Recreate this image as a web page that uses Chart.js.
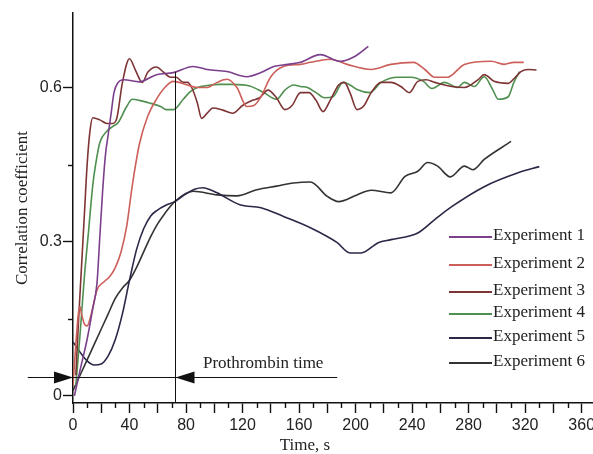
<!DOCTYPE html>
<html><head><meta charset="utf-8">
<script src="https://cdn.jsdelivr.net/npm/chart.js@4"></script>
<style>html,body{margin:0;padding:0;background:#fff;overflow:hidden}</style>
</head><body>
<canvas id="c" width="593" height="454"></canvas>
<script>
// ---------- data ----------
const seriesLabels = ['Experiment 1','Experiment 2','Experiment 3','Experiment 4','Experiment 5','Experiment 6'];
const seriesColors = ['#7B3F8C','#CC5F5A','#7E3434','#4F8F4F','#2A2847','#333333'];

const exp1Time = [1,5,10,14,17,19,21,23,25,27,29,32,36,47,59,71,85,95,109,123,133,142,152,161,175,189,199,209];
const exp1Corr = [0.0,0.05,0.11,0.17,0.22,0.31,0.4,0.47,0.51,0.55,0.59,0.61,0.615,0.611,0.625,0.629,0.641,0.635,0.631,0.621,0.629,0.641,0.645,0.649,0.664,0.651,0.66,0.68];

const exp2Time = [0,2,4,5,6,8,10,13,17,22,26,30,34,38,42,47,53,59,65,71,81,88,95,102,109,116,123,128,133,140,149,161,168,182,194,211,225,241,249,256,265,277,296,305,312,319];
const exp2Corr = [0.02,0.1,0.165,0.173,0.16,0.14,0.136,0.16,0.206,0.222,0.232,0.25,0.28,0.33,0.41,0.49,0.545,0.577,0.6,0.612,0.605,0.6,0.6,0.61,0.616,0.6,0.563,0.565,0.582,0.621,0.641,0.645,0.649,0.655,0.645,0.635,0.645,0.649,0.635,0.62,0.62,0.645,0.651,0.645,0.649,0.649];

const exp3Time = [2,4,6,8,10,12,14,19,24,28,31,35,40,44,49,53,59,64,69,73,78,81,84,88,91,95,99,106,113,120,127,132,138,144,150,155,161,167,172,177,182,188,192,196,201,206,211,218,225,232,238,244,250,256,268,277,287,291,298,308,313,317,322,328];
const exp3Corr = [0.04,0.15,0.25,0.35,0.45,0.515,0.541,0.537,0.53,0.53,0.54,0.61,0.656,0.635,0.61,0.63,0.64,0.63,0.62,0.62,0.61,0.61,0.6,0.57,0.54,0.55,0.56,0.556,0.55,0.565,0.575,0.58,0.595,0.58,0.557,0.565,0.59,0.59,0.575,0.553,0.575,0.605,0.61,0.59,0.557,0.565,0.59,0.61,0.61,0.602,0.59,0.612,0.615,0.61,0.602,0.6,0.616,0.625,0.612,0.608,0.62,0.631,0.635,0.634];

const exp4Time = [2,5,8,11,14,16,19,24,28,32,38,42,47,54,62,66,71,78,83,88,95,104,113,125,135,144,150,156,161,166,172,178,184,191,196,201,210,218,230,239,248,254,263,272,277,284,291,297,301,308,312,316];
const exp4Corr = [0.02,0.12,0.23,0.32,0.41,0.45,0.493,0.515,0.524,0.532,0.563,0.577,0.575,0.57,0.563,0.557,0.557,0.577,0.592,0.6,0.604,0.606,0.606,0.603,0.59,0.577,0.595,0.605,0.602,0.6,0.59,0.58,0.582,0.61,0.605,0.596,0.59,0.61,0.62,0.62,0.612,0.598,0.61,0.6,0.61,0.602,0.621,0.596,0.577,0.582,0.61,0.631];

const exp5Time = [0,5,10,15,20,25,30,35,40,45,50,55,60,65,72,80,86,92,98,102,118,133,149,168,187,196,204,216,225,244,256,268,291,315,330];
const exp5Corr = [0.105,0.085,0.068,0.06,0.062,0.078,0.11,0.16,0.225,0.285,0.325,0.35,0.362,0.37,0.378,0.393,0.402,0.405,0.4,0.395,0.372,0.366,0.349,0.327,0.298,0.278,0.278,0.298,0.304,0.317,0.343,0.368,0.407,0.434,0.446];

const exp6Time = [0,5,10,15,20,25,30,35,40,45,50,55,60,65,72,85,102,116,130,144,156,168,180,188,201,211,225,235,244,251,258,267,277,283,291,310];
const exp6Corr = [0.01,0.04,0.07,0.1,0.13,0.16,0.19,0.21,0.225,0.25,0.28,0.31,0.335,0.355,0.378,0.398,0.391,0.389,0.401,0.408,0.414,0.416,0.388,0.378,0.391,0.4,0.395,0.427,0.437,0.454,0.447,0.426,0.447,0.44,0.46,0.495];

const xTicks = [0,10,20,30,40,50,60,70,80,90,100,110,120,130,140,150,160,170,180,190,200,210,220,230,240,250,260,270,280,290,300,310,320,330,340,350,360];
const xLabelTicks = [0,40,80,120,160,200,240,280,320,360];
const yTicks = [0,0.15,0.3,0.45,0.6];
const yLabelTicks = [0,0.3,0.6];

// Prothrombin time annotation (data units)
const ptTime = 72;
const ptTop = 0.63;
const ptArrowLevel = 0.037;
const ptLineFrom = -32;
const ptLineTo = 187;
const ptText = 'Prothrombin time';
const ptTextX = 92;
const ptTextY = 0.062;

const xTitle = 'Time, s';
const yTitle = 'Correlation coefficient';

// ---------- chart ----------
const times = [exp1Time,exp2Time,exp3Time,exp4Time,exp5Time,exp6Time];
const corrs = [exp1Corr,exp2Corr,exp3Corr,exp4Corr,exp5Corr,exp6Corr];
const datasets = seriesLabels.map((lab,i)=>({
  label: lab,
  data: times[i].map((t,j)=>({x:t,y:corrs[i][j]})),
  borderColor: seriesColors[i],
  backgroundColor: seriesColors[i],
  borderWidth: 1.6,
  pointRadius: 0,
  cubicInterpolationMode: 'monotone',
  fill: false
}));

const SERIF = "'Liberation Serif', 'Times New Roman', serif";
const SANS = "'Liberation Sans', Arial, sans-serif";

const extras = {
  id: 'extras',
  afterDraw(chart){
    const ctx = chart.ctx, xs = chart.scales.x, ys = chart.scales.y, ca = chart.chartArea;
    ctx.save();
    // minor ticks
    ctx.strokeStyle = '#111'; ctx.lineWidth = 1.4;
    xTicks.forEach(v=>{
      if (v % 20 !== 0){
        const px = Math.round(xs.getPixelForValue(v))+0.5;
        ctx.beginPath(); ctx.moveTo(px, ca.bottom); ctx.lineTo(px, ca.bottom+5); ctx.stroke();
      }
    });
    yTicks.forEach(v=>{
      if (!yLabelTicks.includes(v)){
        const py = Math.round(ys.getPixelForValue(v))+0.5;
        ctx.beginPath(); ctx.moveTo(ca.left-5, py); ctx.lineTo(ca.left, py); ctx.stroke();
      }
    });
    // prothrombin annotation
    ctx.strokeStyle = '#111'; ctx.lineWidth = 1; ctx.fillStyle = '#111';
    const vx = Math.round(xs.getPixelForValue(ptTime))+0.5;
    ctx.beginPath(); ctx.moveTo(vx, ca.bottom); ctx.lineTo(vx, ys.getPixelForValue(ptTop)); ctx.stroke();
    const ay = Math.round(ys.getPixelForValue(ptArrowLevel))+0.5;
    ctx.beginPath(); ctx.moveTo(xs.getPixelForValue(ptLineFrom), ay); ctx.lineTo(xs.getPixelForValue(ptLineTo), ay); ctx.stroke();
    const x0 = xs.getPixelForValue(0);
    ctx.beginPath(); ctx.moveTo(x0, ay); ctx.lineTo(x0-19, ay-6); ctx.lineTo(x0-19, ay+6); ctx.closePath(); ctx.fill();
    ctx.beginPath(); ctx.moveTo(vx, ay); ctx.lineTo(vx+19, ay-6); ctx.lineTo(vx+19, ay+6); ctx.closePath(); ctx.fill();
    ctx.font = '17px ' + SERIF; ctx.fillStyle = '#222';
    ctx.textAlign = 'left'; ctx.textBaseline = 'middle';
    ctx.fillText(ptText, xs.getPixelForValue(ptTextX), ys.getPixelForValue(ptTextY));
    // x title
    ctx.textAlign = 'center'; ctx.textBaseline = 'alphabetic';
    ctx.fillText(xTitle, ca.left + 232, 450);
    // legend
    const rows = [236, 264, 291, 313, 337, 362];
    ctx.textAlign = 'left'; ctx.textBaseline = 'middle';
    chart.data.datasets.forEach((ds,i)=>{
      const y = rows[i];
      ctx.strokeStyle = ds.borderColor; ctx.lineWidth = 2;
      ctx.beginPath(); ctx.moveTo(449, y+1); ctx.lineTo(492, y+1); ctx.stroke();
      ctx.fillStyle = '#222';
      ctx.fillText(ds.label, 493, y);
    });
    ctx.restore();
  }
};

new Chart(document.getElementById('c'), {
  type: 'line',
  data: { datasets },
  options: {
    responsive: false,
    animation: false,
    devicePixelRatio: 1,
    layout: { padding: { top: 13, right: 0, bottom: 0, left: 0 } },
    plugins: { legend: { display: false }, tooltip: { enabled: false } },
    scales: {
      x: {
        type: 'linear', position: 'bottom', min: 0, max: 368,
        afterBuildTicks: s => { s.ticks = xTicks.map(v=>({value:v})); },
        afterFit: s => { s.height = 51; s.paddingLeft = 0; s.paddingRight = 0; },
        ticks: {
          autoSkip: false, maxRotation: 0, padding: 3,
          color: '#222', font: { family: SANS, size: 16 },
          callback: v => xLabelTicks.includes(v) ? String(v) : ''
        },
        grid: {
          drawOnChartArea: false, drawTicks: true, tickLength: 10, tickWidth: 1.4,
          tickColor: c => (c.tick && c.tick.value % 20 === 0) ? '#111' : 'rgba(0,0,0,0)'
        },
        border: { display: true, color: '#111', width: 1.5 }
      },
      y: {
        type: 'linear', min: -0.014, max: 0.745,
        afterBuildTicks: s => { s.ticks = yTicks.map(v=>({value:v})); },
        afterFit: s => { s.width = 73; s.paddingTop = 0; s.paddingBottom = 0; },
        ticks: {
          autoSkip: false, padding: 1,
          color: '#222', font: { family: SANS, size: 16 },
          callback: v => yLabelTicks.includes(v) ? String(v) : ''
        },
        grid: {
          drawOnChartArea: false, drawTicks: true, tickLength: 10, tickWidth: 1.4,
          tickColor: c => (c.tick && yLabelTicks.includes(c.tick.value)) ? '#111' : 'rgba(0,0,0,0)'
        },
        border: { display: true, color: '#111', width: 1.5 },
        title: { display: true, text: yTitle, color: '#222', font: { family: SERIF, size: 17 }, padding: { top: 12, bottom: 0 } }
      }
    }
  },
  plugins: [extras]
});
</script>
</body></html>
